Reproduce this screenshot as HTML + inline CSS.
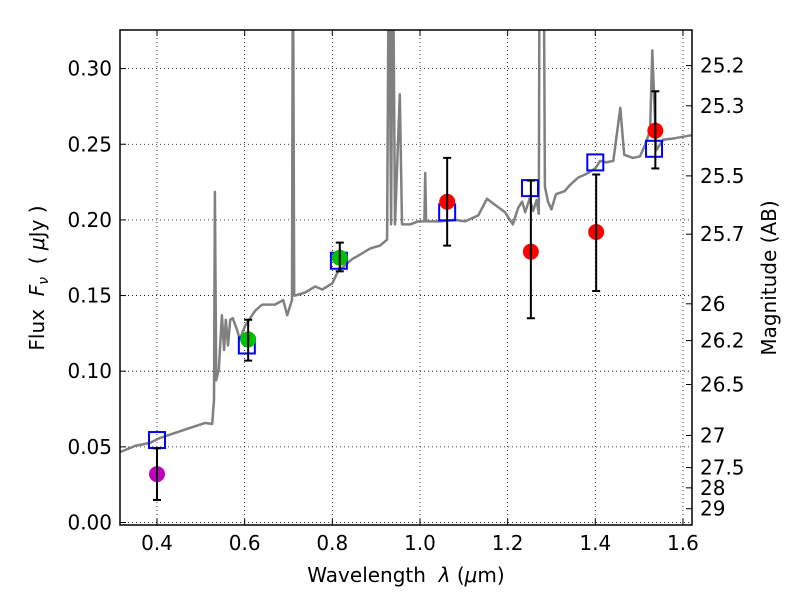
<!DOCTYPE html>
<html><head><meta charset="utf-8"><style>
body{margin:0;background:#fff}
svg text{font-family:"DejaVu Sans","Liberation Sans",sans-serif;fill:#000}
</style></head><body>
<svg id="c" width="800" height="600"></svg>
<script>
const specLam=[0.316,0.350,0.384,0.407,0.441,0.475,0.510,0.526,0.530,0.532,0.535,0.541,0.548,0.553,0.557,0.562,0.567,0.573,0.583,0.589,0.601,0.624,0.640,0.669,0.688,0.697,0.708,0.710,0.713,0.715,0.738,0.761,0.777,0.800,0.813,0.829,0.845,0.863,0.886,0.909,0.925,0.929,0.934,0.938,0.943,0.954,0.959,0.977,0.996,1.010,1.012,1.014,1.018,1.046,1.080,1.103,1.133,1.153,1.171,1.194,1.212,1.224,1.233,1.240,1.250,1.258,1.266,1.271,1.273,1.282,1.285,1.292,1.300,1.310,1.330,1.342,1.361,1.377,1.400,1.411,1.425,1.441,1.457,1.466,1.486,1.502,1.514,1.525,1.530,1.539,1.555,1.582,1.620];
const specFlux=[0.0466,0.0506,0.0526,0.0559,0.0592,0.0625,0.0658,0.0651,0.081,0.2185,0.094,0.101,0.137,0.114,0.134,0.117,0.134,0.135,0.127,0.121,0.130,0.140,0.144,0.144,0.147,0.137,0.147,0.40,0.15,0.150,0.152,0.156,0.154,0.158,0.166,0.170,0.174,0.177,0.181,0.183,0.187,0.40,0.197,0.40,0.197,0.283,0.197,0.197,0.199,0.199,0.231,0.199,0.199,0.199,0.200,0.199,0.203,0.214,0.210,0.205,0.197,0.208,0.212,0.205,0.214,0.206,0.213,0.204,0.40,0.40,0.222,0.212,0.207,0.217,0.219,0.223,0.228,0.230,0.234,0.239,0.238,0.239,0.274,0.243,0.241,0.242,0.250,0.259,0.312,0.246,0.253,0.254,0.256];
const modelLam=[0.4,0.605,0.815,1.062,1.251,1.400,1.534];
const modelFlux=[0.0545,0.117,0.173,0.205,0.221,0.238,0.247];
const obsLam=[0.4,0.608,0.817,1.062,1.253,1.402,1.537];
const obsFlux=[0.032,0.121,0.175,0.212,0.179,0.192,0.259];
const obsLo=[0.0149,0.107,0.166,0.183,0.135,0.153,0.234];
const obsHi=[0.049,0.134,0.185,0.241,0.226,0.230,0.285];
const obsColor=['#bf00bf','#00c000','#00c000','red','red','red','red'];
const xTicks=[0.4,0.6,0.8,1.0,1.2,1.4,1.6];
const xTickLabels=['0.4','0.6','0.8','1.0','1.2','1.4','1.6'];
const yTicks=[0,0.05,0.10,0.15,0.20,0.25,0.30];
const yTickLabels=['0.00','0.05','0.10','0.15','0.20','0.25','0.30'];
const magTicks=[25.2,25.3,25.5,25.7,26,26.2,26.5,27,27.5,28,29];

const L=120,R=692,T=30,B=525;
const X=v=>157+(v-0.4)*438.3;
const Y=v=>522.5-v*1513;
const svg=document.getElementById('c');
const NS='http://www.w3.org/2000/svg';
function mk(t,a,p){const e=document.createElementNS(NS,t);for(const k in a)e.setAttribute(k,a[k]);(p||svg).appendChild(e);return e;}
const defs=mk('defs',{});const cp=mk('clipPath',{id:'clip'},defs);mk('rect',{x:L,y:T,width:R-L,height:B-T},cp);
xTicks.forEach((v,i)=>{
 const g=mk('line',{x1:X(v),x2:X(v),y1:T,y2:B,stroke:'#000','stroke-width':0.8,'stroke-dasharray':'1,3'});
 
 mk('line',{x1:X(v),x2:X(v),y1:B,y2:B-6,stroke:'#000'});
 mk('line',{x1:X(v),x2:X(v),y1:T,y2:T+6,stroke:'#000'});
 const t=mk('text',{x:X(v),y:B+25,'font-size':20,'text-anchor':'middle'});t.textContent=xTickLabels[i];
 
});
yTicks.forEach((v,i)=>{
 const g=mk('line',{x1:L,x2:R,y1:Y(v),y2:Y(v),stroke:'#000','stroke-width':0.8,'stroke-dasharray':'1,3'});
 
 mk('line',{x1:L,x2:L+6,y1:Y(v),y2:Y(v),stroke:'#000'});
 const t=mk('text',{x:L-8,y:Y(v)+7,'font-size':20,'text-anchor':'end'});t.textContent=yTickLabels[i];
 
});
magTicks.forEach(m=>{
 const f=Math.pow(10,(23.9-m)/2.5);
 mk('line',{x1:R,x2:R-6,y1:Y(f),y2:Y(f),stroke:'#000'});
 const t=mk('text',{x:R+8,y:Y(f)+7,'font-size':20});t.textContent=String(m);
 
});
const pts=specLam.map((l,i)=>X(l).toFixed(1)+','+Y(specFlux[i]).toFixed(1)).join(' ');
const sp=mk('polyline',{points:pts,fill:'none',stroke:'#808080','stroke-width':2.5,'clip-path':'url(#clip)','stroke-linejoin':'round'});

modelLam.forEach((l,i)=>{
 const r=mk('rect',{x:X(l)-8,y:Y(modelFlux[i])-8,width:16,height:16,fill:'none',stroke:'#0000ff','stroke-width':2});
 
});
obsLam.forEach((l,i)=>{
 const c=mk('circle',{cx:X(l),cy:Y(obsFlux[i]),r:8,fill:obsColor[i]});
 
 const e=mk('line',{x1:X(l),x2:X(l),y1:Y(obsLo[i]),y2:Y(obsHi[i]),stroke:'#000','stroke-width':2});
 
 mk('line',{x1:X(l)-4,x2:X(l)+4,y1:Y(obsLo[i]),y2:Y(obsLo[i]),stroke:'#000','stroke-width':2});
 mk('line',{x1:X(l)-4,x2:X(l)+4,y1:Y(obsHi[i]),y2:Y(obsHi[i]),stroke:'#000','stroke-width':2});
});
const fr=mk('rect',{x:L,y:T,width:R-L,height:B-T,fill:'none',stroke:'#000','stroke-width':1.5});

let t=mk('text',{x:406,y:582,'font-size':20,'text-anchor':'middle'});t.innerHTML='Wavelength &#160;<tspan font-style="italic">λ</tspan> (<tspan font-style="italic">μ</tspan>m)';

t=mk('text',{x:0,y:0,'font-size':20,'text-anchor':'middle',transform:'translate(44,278) rotate(-90)'});t.innerHTML='Flux &#160;<tspan font-style="italic">F<tspan font-size="14" dy="4">ν</tspan></tspan><tspan dy="-4"> &#160;( </tspan><tspan font-style="italic">μ</tspan>Jy )';

t=mk('text',{x:0,y:0,'font-size':20,'text-anchor':'middle',transform:'translate(776,278) rotate(-90)'});t.textContent='Magnitude (AB)';

</script>
</body></html>
